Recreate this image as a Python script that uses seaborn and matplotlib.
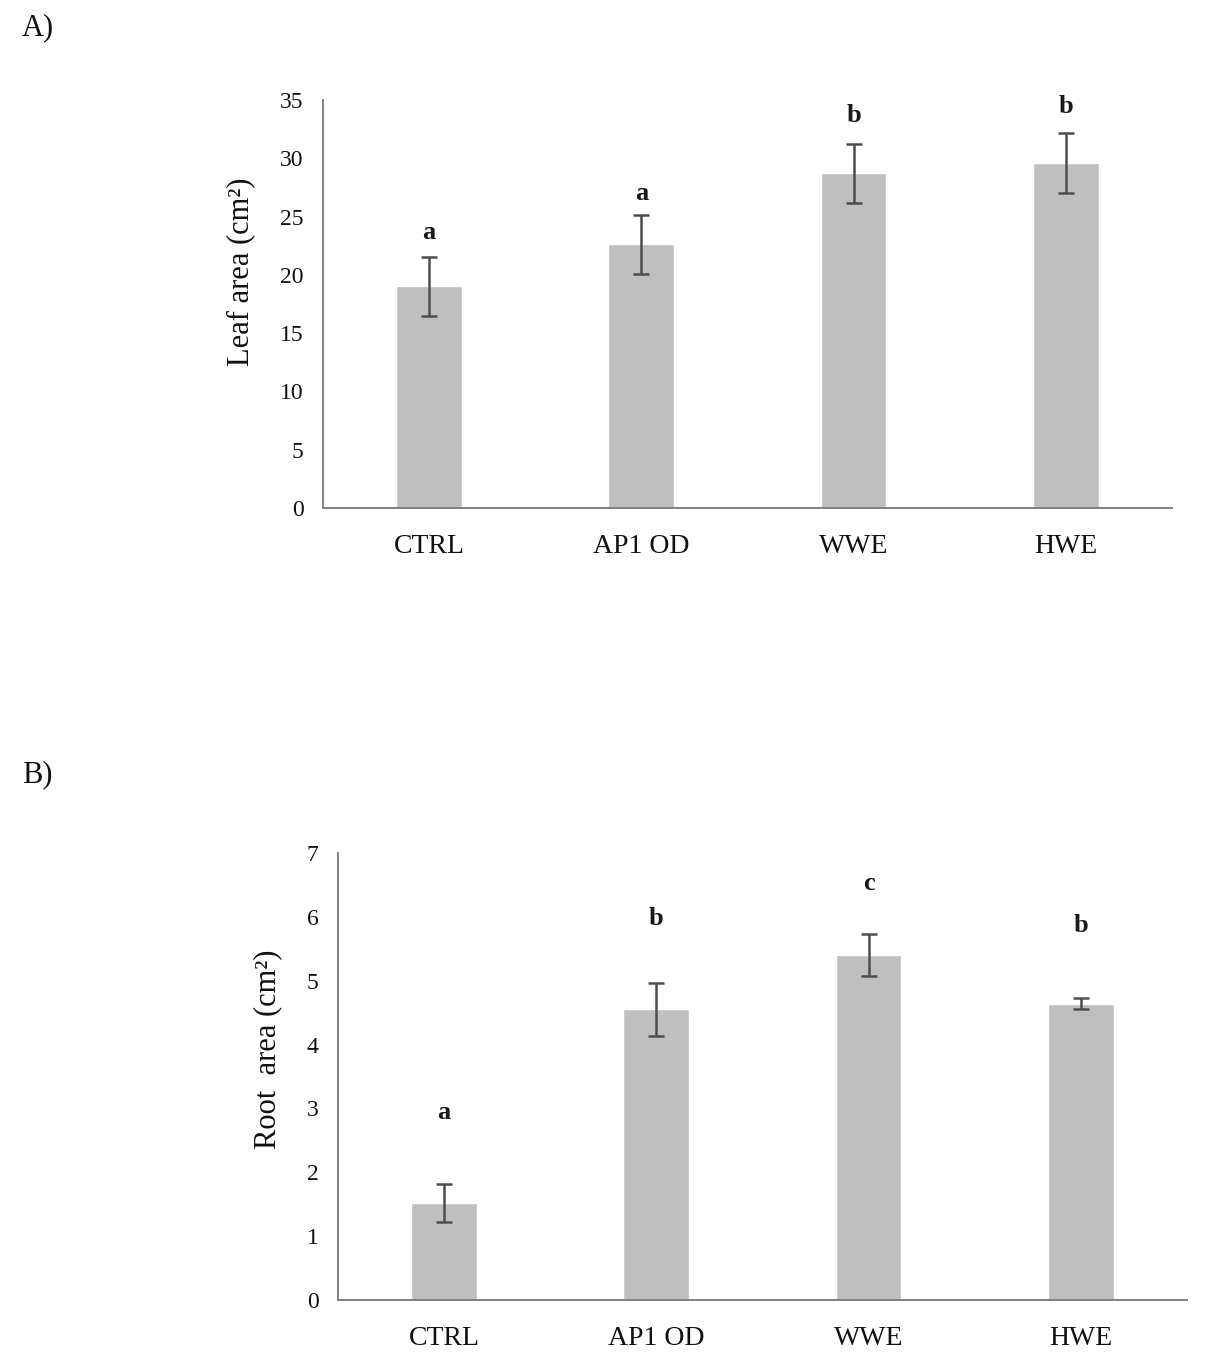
import matplotlib
matplotlib.use("Agg")
import matplotlib.pyplot as plt
import seaborn as sns
import pandas as pd

categories = ["CTRL", "AP1 OD", "WWE", "HWE"]
leaf_area = [19.0, 22.6, 28.7, 29.6]
leaf_err = [2.5, 2.5, 2.5, 2.55]
leaf_letters = ["a", "a", "b", "b"]
leaf_letter_y = [23.6, 27.0, 33.7, 34.4]
root_area = [1.52, 4.55, 5.41, 4.64]
root_err = [0.30, 0.41, 0.33, 0.09]
root_letters = ["a", "b", "c", "b"]
root_letter_y = [2.94, 5.98, 6.53, 5.87]

sns.set_style("white")
plt.rcParams['font.family'] = ['Liberation Serif', 'DejaVu Serif']

fig = plt.figure(figsize=(12.05, 13.56), dpi=100)
axA = fig.add_axes([0.268, 0.6254, 0.7046, 0.3009])
axB = fig.add_axes([0.2805, 0.0413, 0.7045, 0.3296])

bar_color = "#bfbfbf"
err_color = "#4d4d4d"
spine_color = "#808080"

def draw(ax, vals, errs, letters, letter_y, ymax, step, ylabel, lx, ly):
    df = pd.DataFrame({"cat": categories, "val": vals})
    sns.barplot(data=df, x="cat", y="val", color=bar_color, width=0.31,
                errorbar=None, ax=ax, saturation=1)
    xs = range(len(categories))
    ax.errorbar(list(xs), vals, yerr=errs, fmt="none", ecolor=err_color,
                elinewidth=1.8, capsize=6, capthick=1.8)
    for x, t, y in zip(xs, letters, letter_y):
        ax.text(x, y, t, ha="center", va="center", fontsize=19,
                fontweight="bold", color="#1a1a1a")
    ax.set_xlim(-0.5, len(categories) - 0.5)
    ax.set_ylim(0, ymax)
    ax.set_yticks([i * step for i in range(int(round(ymax / step)) + 1)])
    ax.set_xlabel("")
    ax.set_ylabel(ylabel, fontsize=22, color="#111111")
    ax.yaxis.set_label_coords(lx, ly)
    ax.tick_params(axis="y", length=0, pad=14, labelsize=17, labelcolor="#111111")
    ax.tick_params(axis="x", length=0, pad=19, labelsize=20, labelcolor="#111111")
    for s in ["top", "right"]:
        ax.spines[s].set_visible(False)
    for s in ["left", "bottom"]:
        ax.spines[s].set_color(spine_color)
        ax.spines[s].set_linewidth(1.4)

draw(axA, leaf_area, leaf_err, leaf_letters, leaf_letter_y, 35, 5,
     "Leaf area (cm²)", -0.080, 0.578)
draw(axB, root_area, root_err, root_letters, root_letter_y, 7, 1,
     "Root  area (cm²)", -0.066, 0.56)

fig.text(22 / 1205, 1 - 28 / 1356, "A)", fontsize=22, ha="left", va="center", color="#111111")
fig.text(22 / 1205, 1 - 775 / 1356, "B)", fontsize=22, ha="left", va="center", color="#111111")

fig.savefig("out.png", dpi=100, facecolor="white")
